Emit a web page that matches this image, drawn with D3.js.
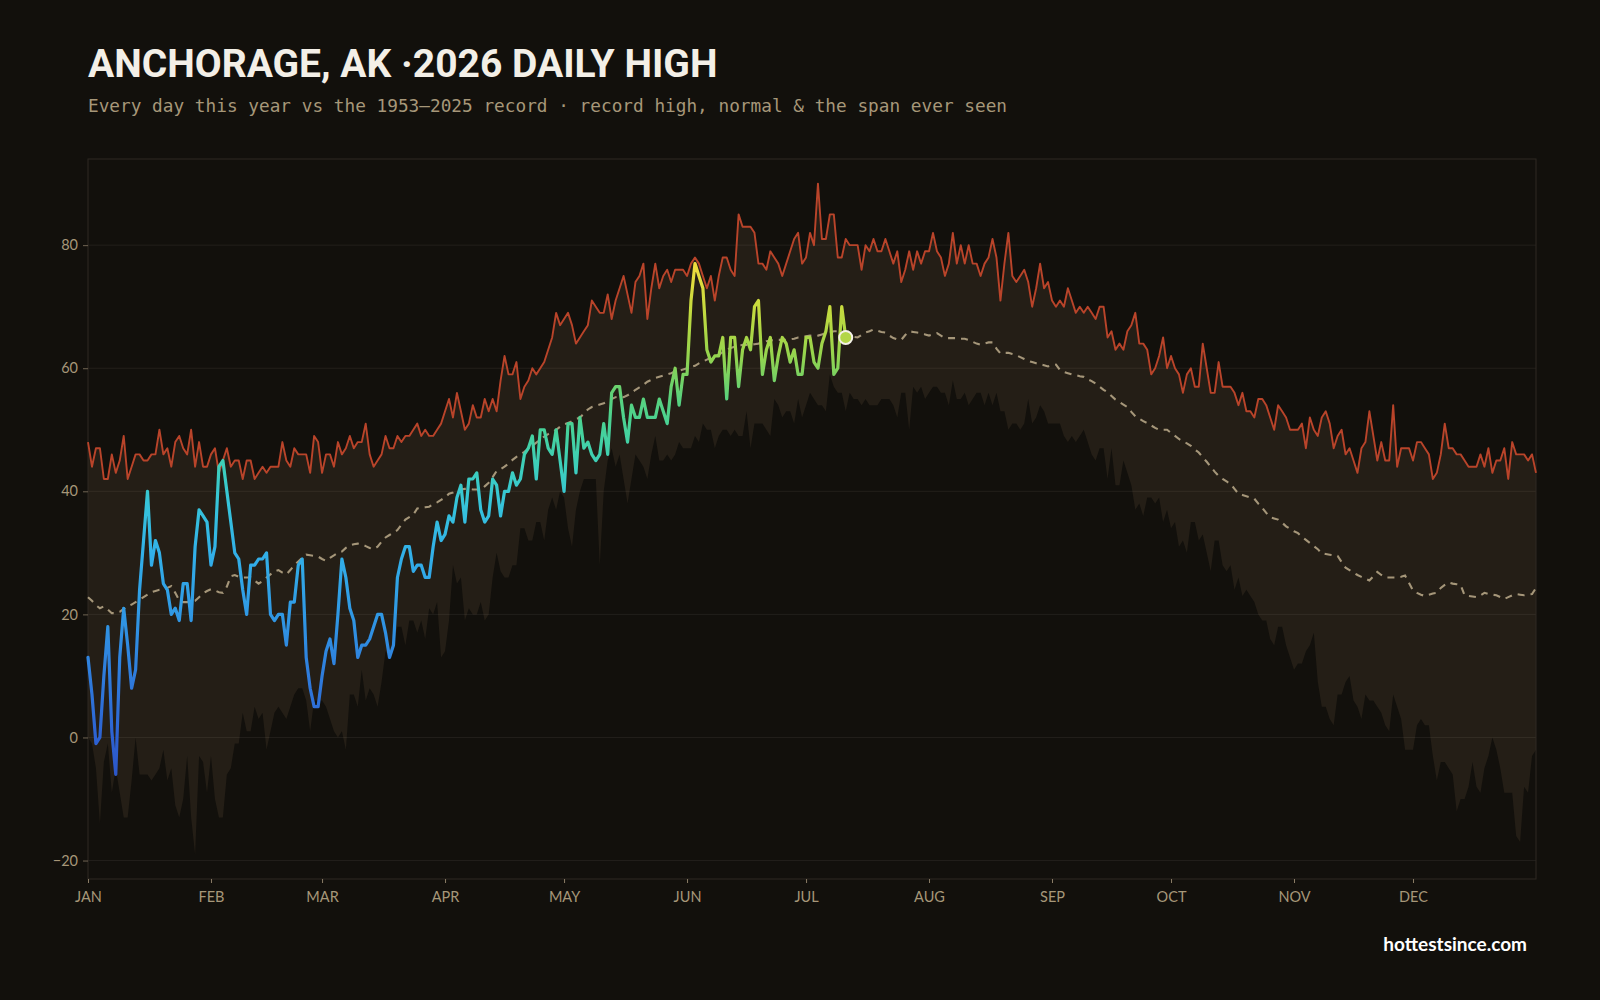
<!DOCTYPE html>
<html>
<head>
<meta charset="utf-8">
<script src="https://cdn.jsdelivr.net/npm/d3@7"></script>
<style>
  html, body { margin: 0; padding: 0; background: #12100c; }
  svg { display: block; }
</style>
</head>
<body>
<div id="chart"></div>
<script>
// ---- data ----
var titleText = "ANCHORAGE, AK \u00b72026 DAILY HIGH";
var subtitleText = "Every day this year vs the 1953\u20132025 record \u00b7 record high, normal & the span ever seen";
var siteText = "hottestsince.com";

var monthLabels = ["JAN", "FEB", "MAR", "APR", "MAY", "JUN", "JUL", "AUG", "SEP", "OCT", "NOV", "DEC"];
var monthStarts = [0, 31, 59, 90, 120, 151, 181, 212, 243, 273, 304, 334];
var yTicks = [-20, 0, 20, 40, 60, 80];

// record high by day of year (index 0 = Jan 1)
var recordHigh = [
  48,44,47,47,42,42,46,43,45,49,42,44,46,46,45,45,46,46,50,46,47,44,48,49,47,46,50,44,48,44,
  44,46,47,43,45,47,44,45,45,42,45,45,42,43,44,43,44,44,44,48,45,44,47,46,46,46,43,49,48,43,
  46,46,44,48,46,47,49,47,48,48,51,46,44,45,46,49,47,47,49,48,49,49,50,51,49,50,49,49,50,51,
  53,55,52,56,53,50,51,54,52,52,55,53,55,53,58,62,59,59,61,55,57,58,60,59,60,61,63,65,69,67,
  68,69,67,64,65,66,67,71,70,69,69,72,68,71,73,75,72,69,74,75,77,68,73,77,73,75,76,74,76,76,
  76,75,77,78,77,75,73,75,71,75,78,78,76,75,85,83,83,83,82,77,77,76,79,78,77,75,77,79,81,82,
  77,78,82,80,90,81,81,85,85,78,78,81,80,80,80,76,80,79,81,79,79,81,79,77,79,74,76,79,76,79,
  77,79,79,82,79,78,75,77,82,77,80,77,80,77,77,75,77,78,81,78,71,77,82,75,74,75,76,74,70,73,
  77,73,74,71,70,71,70,73,71,69,70,69,70,69,68,70,70,65,66,63,64,63,66,67,69,64,64,63,59,60,
  62,65,60,62,60,59,56,59,60,57,57,64,60,56,56,61,57,57,57,56,54,56,53,53,52,55,55,54,52,50,
  54,53,52,50,50,50,51,47,52,50,49,52,53,51,47,49,50,46,47,45,43,47,48,53,49,45,48,45,45,54,
  44,47,47,47,45,48,48,47,46,42,43,46,51,47,47,46,46,45,44,44,44,46,44,47,43,45,45,47,42,48,
  46,46,46,45,46,43
];

// normal high by day of year
var normalHigh = [
  22.8,22.2,21.5,21,21.3,20.8,20.2,20.2,20.4,20.9,21.3,21.6,22,22.4,22.8,23.2,23.6,23.8,24,24,
  24.3,24.6,23.5,22.3,22,22,22.1,22.2,22.8,23.4,23.8,24.1,23.9,23.6,23.5,24.5,26.2,26.4,26.1,26,
  26,26,25.5,25,25.4,26,26.5,27,27.2,26.8,26.5,27.2,28,28.6,29.2,29.7,29.6,29.5,29.4,29,
  28.7,29.2,29.6,30,30.2,30.8,31.2,31.4,31.5,31.4,31.1,30.8,30.6,31,31.8,32.5,32.9,33.3,33.7,34.6,
  35.4,35.8,36.2,37.2,37.3,37.4,37.5,37.9,38.2,38.6,39,39.6,39.8,40.1,40.3,40.4,40.4,40.3,40.3,40.3,
  40.8,41.4,42.3,43.3,43.6,44,44.5,45.1,45.6,46,46.4,46.9,47.4,47.9,48.5,48.9,49.3,49.6,50,50.5,
  50.9,51.1,51.4,51.7,52,52.6,53.3,53.7,53.9,54.1,54.3,54.6,55,55.3,55.4,55.3,55.6,56,56.5,56.9,
  57.3,57.8,58.1,58.4,58.6,58.8,59,59.2,59.5,59.6,59.8,60,60.2,60.4,60.8,61.1,61.4,61.7,62,62.2,
  62.6,63,63.3,63.5,63.6,63.8,63.8,63.8,63.9,64,64.2,64.4,64.5,64.6,64.6,64.6,64.6,64.7,64.8,65,
  65.1,65.2,65.3,65.2,65.3,65.5,65.7,65.8,66,66,65.8,65.5,65.2,65.1,65,65.4,65.8,66,66.3,66.1,
  65.9,65.8,65.3,64.9,64.7,64.6,65.4,66,65.9,65.8,65.7,65.5,65.3,65.5,65.7,65.3,64.9,64.9,64.9,64.9,
  64.8,64.8,64.6,64.3,64,63.8,64,64.2,64.2,63.2,62.4,62.5,62.5,62.3,62.1,61.8,61.5,61.2,61,60.8,
  60.6,60.5,60.3,60.5,60.6,59.7,59.4,59.2,59,58.9,58.7,58.6,58.2,57.9,57.5,57,56.5,56.1,55.5,54.9,
  54.5,54.1,53.7,52.9,52.2,51.8,51.4,51.1,50.7,50.3,50,50,50,49.5,49,48.5,48.1,47.8,47.4,46.8,
  46.3,45.5,44.8,44,43.2,42.5,42,41.6,41.2,40.4,39.6,39.4,39.2,39,38.8,38,37.3,36.5,35.8,35.6,
  35.4,34.9,34.3,33.9,33.5,33.2,32.6,32.1,31.6,31.1,30.6,29.9,29.8,29.7,29.6,29.5,28.5,27.6,27.2,26.8,
  26.4,26.1,25.8,25.5,26.2,26.9,26.4,26,26,26,26,26.1,26.3,25.1,23.9,23.5,23.2,23,23.2,23.4,
  23.5,24.3,24.8,25.2,25,24.9,24.8,23.1,23,22.9,22.8,23.1,23.5,23.3,23.2,23.1,22.8,22.5,22.8,23.1,
  23.3,23.2,23.1,23.2,23.3,24.3
];

// record low of the daily high by day of year
var recordLow = [
  0,-1,-5,-14,-4,-1,-9,-5,-9,-13,-13,-7,0,-6,-6,-6,-7,-6,-5,-2,-7,-5,-11,-13,-10,-3,-13,-19,-3,-4,
  -9,-3,-10,-13,-13,-6,-5,-1,-1,4,1,1,5,3,4,-2,1,4,5,4,3,5,7,8,8,6,1,6,6,6,
  5,3,1,0,1,-2,7,7,5,11,6,8,7,5,9,14,13,15,18,18,15,19,19,17,19,16,21,20,22,13,
  14,19,28,25,26,19,21,20,20,22,19,20,26,30,27,26,26,28,28,34,34,32,32,35,35,32,37,39,37,40,
  39,34,31,37,40,42,42,42,42,28,40,45,47,44,46,42,38,42,46,45,44,42,46,49,45,45,46,45,46,48,
  47,47,47,49,48,51,50,50,47,49,50,50,49,50,49,49,53,47,51,51,51,50,49,55,54,52,53,53,51,55,
  52,54,56,55,54,54,53,59,57,56,56,53,56,55,55,54,55,54,54,54,55,55,55,54,52,56,56,50,57,56,
  57,55,56,57,57,56,56,54,58,55,55,56,54,55,56,56,54,56,54,56,53,53,50,51,51,50,51,55,51,52,
  54,53,51,51,51,51,49,48,49,48,49,50,48,46,45,47,47,42,47,41,41,45,43,41,37,38,36,39,39,38,
  39,35,37,34,35,31,32,30,35,35,32,33,30,27,32,32,28,27,28,24,26,23,24,23,22,20,19,19,16,15,
  18,18,15,13,11,12,12,14,15,17,9,5,5,3,2,7,7,9,10,6,5,3,7,6,6,5,4,2,1,7,
  5,3,-2,-2,-2,2,3,2,2,-3,-7,-4,-4,-5,-6,-12,-10,-10,-8,-4,-8,-9,-5,-3,0,-2,-5,-9,-9,-9,
  -16,-17,-8,-9,-3,-2
];

// 2026 daily highs so far (Jan 1 .. Jul 11)
var high2026 = [
  13,7,-1,0,10,18,1,-6,13,21,15,8,11,24,32,40,28,32,30,25,24,20,21,19,25,25,19,31,37,36,
  35,28,31,44,45,40,35,30,29,24,20,28,28,29,29,30,20,19,20,20,15,22,22,28,29,13,8,5,5,10,
  14,16,12,20,29,26,21,19,13,15,15,16,18,20,20,17,13,15,26,29,31,31,27,28,28,26,26,31,35,32,
  33,36,35,39,41,35,42,42,43,37,35,36,42,41,36,40,40,43,41,42,46,47,49,42,50,50,47,46,50,45,
  40,51,51,43,52,47,48,46,45,46,51,46,56,57,57,52,48,54,52,52,55,52,52,52,55,53,51,57,60,54,
  59,59,71,77,75,73,63,61,62,62,65,55,65,65,57,63,65,63,70,71,59,63,65,58,62,65,64,61,63,59,
  59,65,65,61,60,64,66,70,59,60,70,65
];

// colour ramp for the 2026 line, by temperature
var rampValues = [-10, 0, 10, 20, 30, 38, 44, 50, 55, 58, 62, 66, 70, 77, 82];
var rampColors = ["#2b50c2", "#2d62d2", "#2f7cdc", "#3098e4", "#32b0e8", "#36c4da", "#3dcfbb",
                  "#46d29a", "#58d27e", "#74d266", "#94d44e", "#aed745", "#c8db3e", "#f1dc3e", "#f6d640"];

// ---- layout ----
var W = 1600, H = 1000;
var margin = { top: 159, right: 64, bottom: 121, left: 88 },
    width = W - margin.left - margin.right,
    height = H - margin.top - margin.bottom;

var svg = d3.select("#chart")
    .append("svg")
    .attr("width", W)
    .attr("height", H)
    .style("background", "#12100c");

// titles
svg.append("text")
    .attr("x", 88)
    .attr("y", 77)
    .attr("fill", "#f3efe7")
    .style("font-family", "Roboto, sans-serif")
    .style("font-weight", "700")
    .style("font-size", "39px")
    .text(titleText);

svg.append("text")
    .attr("x", 88)
    .attr("y", 112)
    .attr("fill", "#a69779")
    .style("font-family", "'DejaVu Sans Mono', monospace")
    .style("font-size", "17.75px")
    .text(subtitleText);

svg.append("text")
    .attr("x", 1527)
    .attr("y", 951)
    .attr("text-anchor", "end")
    .attr("fill", "#ffffff")
    .style("font-family", "Lato, sans-serif")
    .style("font-weight", "700")
    .style("font-size", "19px")
    .text(siteText);

var g = svg.append("g")
    .attr("transform", "translate(" + margin.left + "," + margin.top + ")");

// scales
var x = d3.scaleLinear()
    .domain([0, 365])
    .range([0, width]);

var y = d3.scaleLinear()
    .domain([d3.min(recordLow) - 4, d3.max(recordHigh) + 4])
    .range([height, 0]);

// gradient for the 2026 line (colour follows the value)
var grad = svg.append("defs").append("linearGradient")
    .attr("id", "tempGrad")
    .attr("gradientUnits", "userSpaceOnUse")
    .attr("x1", 0).attr("x2", 0)
    .attr("y1", y(rampValues[0]))
    .attr("y2", y(rampValues[rampValues.length - 1]));

var r0 = rampValues[0], r1 = rampValues[rampValues.length - 1];
grad.selectAll("stop")
    .data(rampValues)
    .enter()
    .append("stop")
    .attr("offset", function (d) { return (d - r0) / (r1 - r0); })
    .attr("stop-color", function (d, i) { return rampColors[i]; });

// band between record low and record high
var band = d3.area()
    .x(function (d, i) { return x(i); })
    .y0(function (d, i) { return y(recordLow[i]); })
    .y1(function (d) { return y(d); });

g.append("path")
    .datum(recordHigh)
    .attr("d", band)
    .attr("fill", "#241e16");

// grid lines
g.selectAll(".grid")
    .data(yTicks)
    .enter()
    .append("line")
    .attr("x1", 0)
    .attr("x2", width)
    .attr("y1", function (d) { return y(d); })
    .attr("y2", function (d) { return y(d); })
    .attr("stroke", "#fff0dc")
    .attr("stroke-opacity", 0.07);

// frame
g.append("rect")
    .attr("x", 0)
    .attr("y", 0)
    .attr("width", width)
    .attr("height", height)
    .attr("fill", "none")
    .attr("stroke", "#2e2922");

// y axis
var yAxis = g.append("g")
    .call(d3.axisLeft(y).tickValues(yTicks).tickSize(5).tickPadding(5));
yAxis.select(".domain").remove();
yAxis.selectAll("line").attr("stroke", "#6f6453");
yAxis.selectAll("text")
    .attr("fill", "#a69779")
    .style("font-family", "Lato, sans-serif")
    .style("font-size", "14.5px");

// x axis
var xAxis = g.append("g")
    .attr("transform", "translate(0," + height + ")")
    .call(d3.axisBottom(x).tickValues(monthStarts)
        .tickFormat(function (d, i) { return monthLabels[i]; })
        .tickSize(4).tickPadding(9));
xAxis.select(".domain").remove();
xAxis.selectAll("line").attr("stroke", "#8a7c66");
xAxis.selectAll("text")
    .attr("fill", "#a69779")
    .style("font-family", "Lato, sans-serif")
    .style("font-size", "14.5px");

// record high line
var line = d3.line()
    .x(function (d, i) { return x(i); })
    .y(function (d) { return y(d); });

g.append("path")
    .datum(recordHigh)
    .attr("d", line)
    .attr("fill", "none")
    .attr("stroke", "#b9442a")
    .attr("stroke-width", 1.9)
    .attr("stroke-linejoin", "round");

// normal line (dashed)
g.append("path")
    .datum(normalHigh)
    .attr("d", line)
    .attr("fill", "none")
    .attr("stroke", "#a59679")
    .attr("stroke-width", 2.1)
    .attr("stroke-dasharray", "7,6");

// 2026 line
g.append("path")
    .datum(high2026)
    .attr("d", line)
    .attr("fill", "none")
    .attr("stroke", "url(#tempGrad)")
    .attr("stroke-width", 3.2)
    .attr("stroke-linejoin", "round")
    .attr("stroke-linecap", "round");

// latest day marker
var last = high2026.length - 1;
g.append("circle")
    .attr("cx", x(last))
    .attr("cy", y(high2026[last]))
    .attr("r", 6.5)
    .attr("fill", "#b3d647")
    .attr("stroke", "#f4f1e8")
    .attr("stroke-width", 2);
</script>
</body>
</html>
